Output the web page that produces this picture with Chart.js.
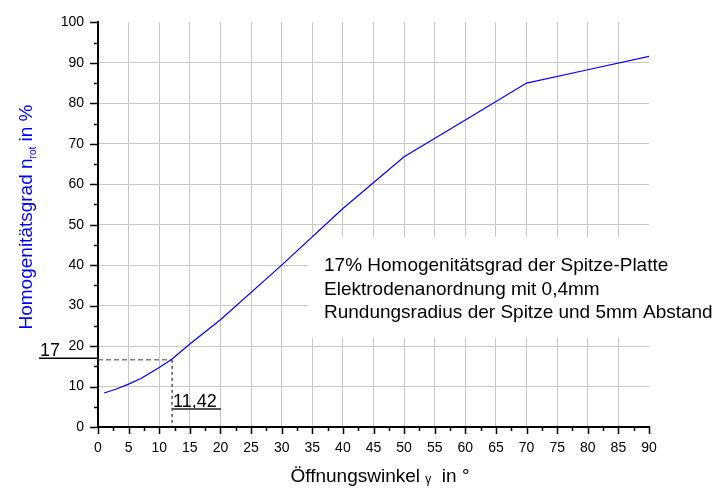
<!DOCTYPE html>
<html>
<head>
<meta charset="utf-8">
<script src="https://cdn.jsdelivr.net/npm/chart.js@4.4.1/dist/chart.umd.min.js"></script>
<style>
    html, body { margin: 0; padding: 0; background: #fff; }
</style>
</head>
<body>
<canvas id="myChart" width="728" height="488"></canvas>
<script>
// Messwerte
var winkel = [1, 3, 5, 7, 10, 12, 15, 20, 30, 40, 50, 60, 70, 80, 90];
var homogenitaet = [8.4, 9.4, 10.6, 12.0, 14.7, 16.7, 20.5, 26.5, 40, 54, 66.8, 75.9, 85, 88.3, 91.6];

// Hilfslinien fuer den 17%-Punkt
var hilfsX = [0, 12.1, 12.1];
var hilfsY = [16.6, 16.6, 0];
var markeY = '17';
var markeX = '11,42';

var infoText = ['17% Homogenitätsgrad der Spitze-Platte',
                'Elektrodenanordnung mit 0,4mm',
                'Rundungsradius der Spitze und 5mm Abstand'];

var FONT = "'Liberation Sans', Arial, sans-serif";

function punkte(xs, ys) {
    var p = [];
    for (var i in xs) {
        p.push({ x: xs[i], y: ys[i] });
    }
    return p;
}

var extras = {
    id: 'extras',
    beforeDatasetsDraw: function (chart) {
        var ctx = chart.ctx;
        ctx.save();
        ctx.fillStyle = '#fff';
        ctx.fillRect(308, 237, 420, 101);
        ctx.restore();
    },
    afterDraw: function (chart) {
        var ctx = chart.ctx;
        var xs = chart.scales.x, ys = chart.scales.y;
        var a = chart.chartArea;
        ctx.save();

        // Teilstriche
        ctx.strokeStyle = '#000';
        ctx.lineWidth = 1.5;
        ctx.beginPath();
        for (var v = 0; v <= 90; v += 2.5) {
            var px = Math.round(xs.getPixelForValue(v)) + 0.5;
            var len = (v % 5 === 0) ? 7 : 4;
            ctx.moveTo(px, a.bottom);
            ctx.lineTo(px, a.bottom + len);
        }
        for (var w = 0; w <= 100; w += 5) {
            var py = Math.round(ys.getPixelForValue(w)) + 0.5;
            var l2 = (w % 10 === 0) ? 8 : 4;
            ctx.moveTo(a.left, py);
            ctx.lineTo(a.left - l2, py);
        }
        ctx.stroke();

        // Achsentitel x
        ctx.fillStyle = '#000';
        ctx.textBaseline = 'alphabetic';
        ctx.textAlign = 'left';
        var f1 = '19px ' + FONT, f2 = '12px ' + FONT;
        ctx.font = f1;
        var t1 = 'Öffnungswinkel ', t3 = '  in °';
        var w1 = ctx.measureText(t1).width, w3 = ctx.measureText(t3).width;
        ctx.font = f2;
        var w2 = ctx.measureText('γ').width;
        var x0 = 380 - (w1 + w2 + w3) / 2, yb = 482;
        ctx.font = f1;
        ctx.fillText(t1, x0, yb);
        ctx.font = f2;
        ctx.fillText('γ', x0 + w1, yb + 1);
        ctx.font = f1;
        ctx.fillText(t3, x0 + w1 + w2, yb);

        // Achsentitel y
        ctx.save();
        ctx.translate(32, 217);
        ctx.rotate(-Math.PI / 2);
        ctx.fillStyle = '#0000ff';
        var s1 = 'Homogenitätsgrad n', s3 = ' in %';
        ctx.font = f1;
        var v1 = ctx.measureText(s1).width, v3 = ctx.measureText(s3).width;
        ctx.font = '10px ' + FONT;
        var v2 = ctx.measureText('rot').width;
        var sx = -(v1 + v2 + v3) / 2;
        ctx.font = f1;
        ctx.fillText(s1, sx, 0);
        ctx.font = '10px ' + FONT;
        ctx.fillText('rot', sx + v1, 4);
        ctx.font = f1;
        ctx.fillText(s3, sx + v1 + v2, 0);
        ctx.restore();

        // Marken 17 und 11,42
        ctx.fillStyle = '#000';
        ctx.font = '18px ' + FONT;
        var y17 = ys.getPixelForValue(17);
        ctx.fillText(markeY, 40, y17 - 2);
        ctx.strokeStyle = '#000';
        ctx.lineWidth = 1.5;
        ctx.beginPath();
        ctx.moveTo(39, y17);
        ctx.lineTo(a.left, y17);
        ctx.stroke();

        var xm = xs.getPixelForValue(hilfsX[1]);
        ctx.fillText(markeX, xm + 1, 407);
        ctx.strokeStyle = '#555';
        ctx.lineWidth = 2;
        ctx.beginPath();
        ctx.moveTo(xm, 409);
        ctx.lineTo(xm + 49, 409);
        ctx.stroke();

        // Infotext
        ctx.fillStyle = '#000';
        ctx.font = '19px ' + FONT;
        for (var i = 0; i < infoText.length; i++) {
            ctx.fillText(infoText[i], 324, 271 + i * 23.5);
        }
        ctx.restore();
    }
};

var gridFarbe = '#c8c8c8';

var chart = new Chart(document.getElementById('myChart').getContext('2d'), {
    type: 'scatter',
    data: {
        datasets: [{
            data: punkte(winkel, homogenitaet),
            showLine: true,
            borderColor: '#0000ff',
            borderWidth: 1.2,
            pointRadius: 0,
            tension: 0
        }, {
            data: punkte(hilfsX.slice(0, 2), hilfsY.slice(0, 2)),
            showLine: true,
            borderColor: '#444',
            borderWidth: 1,
            borderDash: [5, 3],
            pointRadius: 0
        }, {
            data: punkte(hilfsX.slice(1), hilfsY.slice(1)),
            showLine: true,
            borderColor: '#000',
            borderWidth: 1,
            borderDash: [3, 3],
            pointRadius: 0
        }]
    },
    options: {
        responsive: false,
        animation: false,
        layout: { padding: { top: 17, right: 79, left: 0, bottom: 0 } },
        plugins: { legend: { display: false }, tooltip: { enabled: false } },
        scales: {
            x: {
                type: 'linear',
                min: 0,
                max: 90,
                afterFit: function (s) { s.height = 61; },
                ticks: { stepSize: 5, color: '#000', padding: 13, maxRotation: 0,
                         font: { family: FONT, size: 14 } },
                grid: {
                    drawTicks: false,
                    lineWidth: 1,
                    color: function (c) { return (c.tick && c.tick.value === 90) ? 'rgba(0,0,0,0)' : gridFarbe; }
                },
                border: { color: '#000', width: 2 }
            },
            y: {
                min: 0,
                max: 100,
                afterFit: function (s) { s.width = 98; },
                ticks: { stepSize: 10, color: '#000', padding: 14,
                         font: { family: FONT, size: 14 } },
                grid: {
                    drawTicks: false,
                    lineWidth: 1,
                    color: function (c) { return (c.tick && c.tick.value === 100) ? 'rgba(0,0,0,0)' : gridFarbe; }
                },
                border: { color: '#000', width: 2 }
            }
        }
    },
    plugins: [extras]
});
</script>
</body>
</html>
